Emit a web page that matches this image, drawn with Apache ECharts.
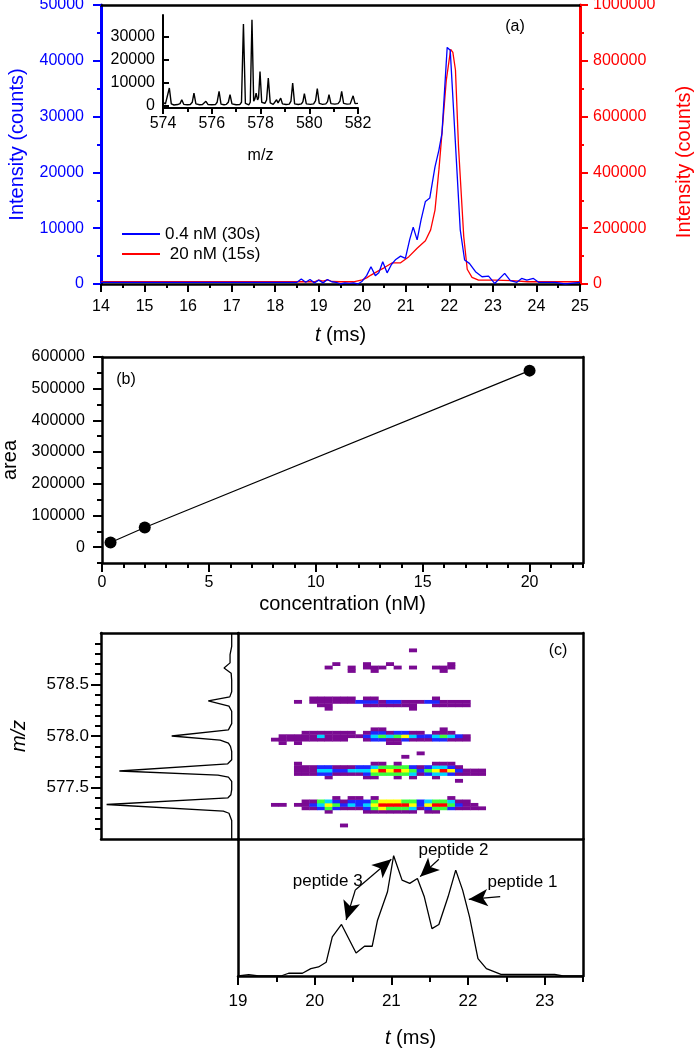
<!DOCTYPE html>
<html><head><meta charset="utf-8">
<script src="https://cdn.jsdelivr.net/npm/echarts@6/dist/echarts.min.js"></script>
<style>html,body{margin:0;padding:0;background:#fff}#c{width:694px;height:1048px}</style>
</head><body><div id="c"></div>
<script>
// ---------- DATA ----------
// (a) chromatograms: [t (ms), intensity]
const blueTrace = [[14,300],[18.5,300],[18.6,900],[18.7,300],[18.8,800],[18.9,200],[19.0,700],[19.1,200],[19.2,800],[19.3,400],[19.4,300],[19.5,0],[19.6,200],[19.7,100],[19.8,200],[19.9,0],[20.0,500],[20.1,1500],[20.2,3100],[20.3,1500],[20.38,2000],[20.47,4000],[20.57,2000],[20.67,3500],[20.77,4400],[20.88,5000],[20.99,4600],[21.09,8000],[21.17,10200],[21.26,7900],[21.35,11500],[21.45,14800],[21.55,15400],[21.67,21000],[21.76,24000],[21.83,27000],[21.95,42400],[22.02,41900],[22.25,9700],[22.35,4300],[22.46,3700],[22.6,2200],[22.75,1300],[22.9,1400],[23.04,100],[23.27,1900],[23.4,600],[23.55,300],[23.66,1000],[23.78,700],[23.93,1000],[24.05,300],[24.43,300],[24.66,0],[25,300]];
const redTrace = [[14,8000],[18.9,8000],[19.0,14000],[19.1,10000],[19.2,15000],[19.3,9000],[19.5,8000],[19.8,8000],[20.0,15000],[20.1,22000],[20.2,32000],[20.38,48000],[20.5,58000],[20.69,76000],[20.88,76000],[21.07,98000],[21.26,128000],[21.45,155000],[21.57,194000],[21.67,265000],[21.76,409000],[21.83,540000],[21.93,731000],[22.03,841000],[22.08,830000],[22.14,767000],[22.21,492000],[22.33,170000],[22.41,53000],[22.52,24000],[22.67,14000],[23.05,14000],[23.43,12000],[23.8,8000],[25,8000]];
const legendNames = ['0.4 nM (30s)', '20 nM (15s)'];
// (a) inset mass spectrum: [m/z, intensity]
const insetSpectrum = [[574.0,1500],[574.1,800],[574.18,500],[574.26,7700],[574.34,800],[574.45,300],[574.6,500],[574.7,900],[574.77,2600],[574.85,600],[575.0,400],[575.12,500],[575.2,1500],[575.27,5500],[575.35,800],[575.5,400],[575.62,500],[575.7,900],[575.76,1900],[575.85,500],[576.0,400],[576.15,500],[576.22,1500],[576.3,6200],[576.38,700],[576.5,400],[576.6,600],[576.68,1500],[576.75,4800],[576.83,800],[577.0,400],[577.15,500],[577.22,1500],[577.3,35600],[577.38,1000],[577.46,300],[577.52,400],[577.58,1500],[577.65,37400],[577.72,2000],[577.77,3000],[577.82,5500],[577.88,2500],[577.92,3500],[577.98,14900],[578.05,1500],[578.18,1000],[578.25,2500],[578.32,12000],[578.4,1200],[578.52,600],[578.6,900],[578.66,2600],[578.72,1200],[578.78,1500],[578.83,3300],[578.9,800],[579.05,500],[579.18,700],[579.25,2000],[579.32,9900],[579.4,800],[579.55,500],[579.68,800],[579.74,1800],[579.8,5300],[579.88,800],[580.05,600],[580.18,800],[580.26,2200],[580.33,7500],[580.41,1000],[580.55,600],[580.68,800],[580.75,1800],[580.81,4800],[580.89,900],[581.05,700],[581.18,900],[581.26,2000],[581.33,6200],[581.41,1000],[581.55,700],[581.68,800],[581.74,1500],[581.8,4300],[581.88,900],[582.0,1000]];
const insetYTicks = [0, 10000, 20000, 30000];
// (b) calibration
const concentration = [0.4, 2, 20];
const area = [15000, 62000, 557000];
const concTicks = [0, 5, 10, 15, 20];
const areaTicks = [0, 100000, 200000, 300000, 400000, 500000, 600000];
// (c) summed spectrum (left panel): [relative intensity, m/z]
const sideSpectrum = [[4.6,579.0],[4.6,578.87],[5.8,578.79],[5.8,578.71],[10.2,578.66],[5,578.61],[4.6,578.54],[4.6,578.43],[6,578.38],[21.7,578.34],[6.6,578.29],[4.6,578.24],[4.6,578.12],[7,578.06],[48.4,578.0],[13,577.96],[7,577.93],[5.5,577.9],[4.6,577.85],[4.6,577.77],[7.5,577.73],[86.6,577.66],[14.6,577.62],[7,577.6],[4.6,577.56],[4.6,577.48],[5.2,577.43],[7.3,577.4],[95.9,577.335],[10.7,577.27],[6.6,577.25],[4.6,577.18],[4.6,577.0]];
const mzMajorTicks = [577.5, 578.0, 578.5];
const mzMinorTicks = [577.1,577.2,577.3,577.4,577.6,577.7,577.8,577.9,578.1,578.2,578.3,578.4,578.6,578.7,578.8,578.9];
// (c) total ion chromatogram (bottom panel): [t (ms), relative intensity]
const ticTrace = [[19,0],[19.14,1],[19.27,0],[19.56,0],[19.66,2],[19.84,2],[19.95,5.4],[20.05,6.6],[20.15,10],[20.23,28.5],[20.35,37.6],[20.54,16.8],[20.65,21.7],[20.75,21.7],[20.82,40.7],[20.95,61.5],[21.03,87.8],[21.14,70],[21.24,67.6],[21.34,71.2],[21.43,57.8],[21.53,34.6],[21.62,37.6],[21.74,57.8],[21.84,77.3],[21.93,62.7],[22.02,43.2],[22.13,12.7],[22.24,5.4],[22.43,1.2],[23.13,1.2],[23.24,0],[23.5,0]];
const tTicks = [19, 20, 21, 22, 23];
const peptideLabels = [['peptide 3',20.17,68.8],['peptide 2',21.81,91.5],['peptide 1',22.71,68.1]];
const peptideArrows = [[[20.53,62.8],[20.41,40.9]],[[20.53,62.8],[21.0,85.2]],[[21.62,85.2],[21.375,72.5]],[[22.42,57.9],[22.01,56]]];
// (c) 2-D map: rows [m/z row index j, first t-bin k, levels per t-bin (0 = empty)]
const HEAT_T0 = 19.08, HEAT_DT = 0.1, HEAT_MZ0 = 577, HEAT_DMZ = 1/30;
const heatRows = [
  [4,13,'1'],
  [8,11,'100001111111011'],
  [9,8,'112421112454443124421111'],
  [10,4,'110112354232356666525664211'],
  [11,8,'1143212224555442344311'],
  [12,12,'1011010000000001'],
  [17,28,'1'],
  [18,11,'100001100101001'],
  [19,7,'1112211112444443123321111'],
  [20,7,'1113322333565654245652111'],
  [21,7,'1112211122344442123321'],
  [22,7,'100000000011010000111'],
  [24,21,'1'],
  [25,23,'1'],
  [28,5,'1010000000000011'],
  [29,4,'11111111110012211211122111'],
  [30,5,'1111131111123434532234321'],
  [31,8,'11111110122122110111'],
  [32,17,'1100000001'],
  [38,11,'100000000001'],
  [39,10,'11000011111110011111'],
  [40,7,'10111111222122111221111'],
  [41,9,'11111101100000001'],
  [49,14,'1001000000001'],
  [50,11,'10010111010100111'],
  [51,12,'1000100100000001'],
  [55,22,'1']
];
const HEAT_COLORS = [null, '#7a0a92', '#1e28ff', '#00d4ff', '#3cff3c', '#ffff00', '#ff0000'];

// ---------- BUILD ----------
const F = '"Liberation Sans", Arial, Helvetica, sans-serif';
const heatData = [];
heatRows.forEach(([j, k0, s]) => {
  for (let i = 0; i < s.length; i++) {
    const lv = +s[i];
    if (lv) heatData.push([HEAT_T0 + (k0 + i) * HEAT_DT, HEAT_MZ0 + j * HEAT_DMZ, lv]);
  }
});
const calib = concentration.map((c, i) => [c, area[i]]);
const plain = (v) => String(v);

function border(o) {
  return Object.assign({
    type: 'value',
    axisLine: { show: true, onZero: false, lineStyle: { color: '#000', width: 2.5 } },
    axisTick: { show: false }, axisLabel: { show: false },
    splitLine: { show: false }, minorSplitLine: { show: false }
  }, o);
}
const lbl = (o) => Object.assign({ fontFamily: F, fontSize: 16, color: '#000', formatter: plain }, o);
const tName = { fontFamily: F, fontSize: 20, color: '#000', rich: { i: { fontFamily: F, fontSize: 20, fontStyle: 'italic', color: '#000' } } };
const G = (o) => Object.assign({ containLabel: false, outerBoundsMode: 'none' }, o);

const chart = echarts.init(document.getElementById('c'), null, { renderer: 'canvas' });
chart.setOption({
  animation: false,
  backgroundColor: '#fff',
  textStyle: { fontFamily: F },
  grid: [
    G({ left: 101, top: 5, width: 479, height: 279 }),      // (a)
    G({ left: 163, top: 15, width: 195, height: 93 }),      // inset
    G({ left: 102, top: 357, width: 481, height: 206 }),    // (b)
    G({ left: 101, top: 633, width: 137, height: 206 }),    // (c) side spectrum
    G({ left: 238, top: 633, width: 345, height: 206 }),    // (c) map
    G({ left: 238, top: 839, width: 345, height: 137 })     // (c) chromatogram
  ],
  legend: {
    left: 117, top: 220, orient: 'vertical', itemWidth: 38, itemHeight: 2, itemGap: 2, icon: 'rect',
    selectedMode: false, data: legendNames,
    formatter: (n) => (n === legendNames[1] ? ' ' + n : n),
    textStyle: { fontFamily: F, fontSize: 17, color: '#000', lineHeight: 18 }
  },
  xAxis: [
    { gridIndex: 0, type: 'value', min: 14, max: 25, interval: 1, position: 'bottom',
      axisLine: { onZero: false, lineStyle: { color: '#000', width: 2.5 } },
      axisTick: { length: 8, lineStyle: { width: 2 } },
      minorTick: { show: true, splitNumber: 2, length: 4, lineStyle: { width: 2, color: '#000' } },
      axisLabel: lbl({ margin: 15 }), splitLine: { show: false }, minorSplitLine: { show: false },
      name: '{i|t} (ms)', nameLocation: 'middle', nameGap: 41, nameTextStyle: tName },
    border({ gridIndex: 0, min: 14, max: 25, position: 'top' }),
    { gridIndex: 1, type: 'value', min: 574, max: 582, interval: 2, position: 'bottom',
      axisLine: { onZero: false, lineStyle: { color: '#000', width: 2 } },
      axisTick: { length: 6, lineStyle: { width: 2 } },
      minorTick: { show: true, splitNumber: 2, length: 4, lineStyle: { width: 2, color: '#000' } },
      axisLabel: lbl({ margin: 8 }), splitLine: { show: false }, minorSplitLine: { show: false },
      name: 'm/z', nameLocation: 'middle', nameGap: 40, nameTextStyle: lbl({}) },
    { gridIndex: 2, type: 'value', min: 0, max: 22.5, interval: 1, position: 'bottom',
      axisLine: { onZero: false, lineStyle: { color: '#000', width: 2.5 } },
      axisTick: { length: 5, lineStyle: { width: 2 } }, axisLabel: { show: false }, splitLine: { show: false } },
    { gridIndex: 2, type: 'value', min: 0, max: 22.5, position: 'bottom',
      axisLine: { show: false, onZero: false },
      axisTick: { show: true, length: 9, customValues: concTicks, lineStyle: { width: 2, color: '#000' } },
      axisLabel: lbl({ customValues: concTicks, margin: 12 }), splitLine: { show: false },
      name: 'concentration (nM)', nameLocation: 'middle', nameGap: 31, nameTextStyle: lbl({ fontSize: 20 }) },
    border({ gridIndex: 2, min: 0, max: 22.5, position: 'top' }),
    border({ gridIndex: 3, min: 0, max: 100, inverse: true, position: 'bottom' }),
    border({ gridIndex: 3, min: 0, max: 100, inverse: true, position: 'top' }),
    border({ gridIndex: 4, min: 19, max: 23.5, position: 'bottom' }),
    border({ gridIndex: 4, min: 19, max: 23.5, position: 'top' }),
    { gridIndex: 5, type: 'value', min: 19, max: 23.5, interval: 0.5, position: 'bottom',
      axisLine: { onZero: false, lineStyle: { color: '#000', width: 2.5 } },
      axisTick: { length: 6, lineStyle: { width: 2 } }, axisLabel: { show: false }, splitLine: { show: false } },
    { gridIndex: 5, type: 'value', min: 19, max: 23.5, position: 'bottom',
      axisLine: { show: false, onZero: false },
      axisTick: { show: true, length: 9, customValues: tTicks, lineStyle: { width: 2, color: '#000' } },
      axisLabel: lbl({ customValues: tTicks, margin: 17, fontSize: 17 }), splitLine: { show: false },
      name: '{i|t} (ms)', nameLocation: 'middle', nameGap: 52, nameTextStyle: tName }
  ],
  yAxis: [
    { gridIndex: 0, type: 'value', min: 0, max: 50000, interval: 10000, position: 'left',
      axisLine: { onZero: false, lineStyle: { color: '#0000ff', width: 3 } },
      axisTick: { length: 8, lineStyle: { width: 2 } },
      minorTick: { show: true, splitNumber: 2, length: 4, lineStyle: { width: 2, color: '#0000ff' } },
      axisLabel: lbl({ color: '#0000ff', margin: 17 }), splitLine: { show: false }, minorSplitLine: { show: false },
      name: 'Intensity (counts)', nameLocation: 'middle', nameGap: 74, nameTextStyle: lbl({ fontSize: 20, color: '#0000ff' }) },
    { gridIndex: 0, type: 'value', min: 0, max: 1000000, interval: 200000, position: 'right',
      axisLine: { onZero: false, lineStyle: { color: '#ff0000', width: 3 } },
      axisTick: { length: 8, lineStyle: { width: 2 } },
      minorTick: { show: true, splitNumber: 2, length: 4, lineStyle: { width: 2, color: '#ff0000' } },
      axisLabel: lbl({ color: '#ff0000', margin: 13 }), splitLine: { show: false }, minorSplitLine: { show: false },
      name: 'Intensity (counts)', nameLocation: 'middle', nameGap: 94,
      nameTextStyle: lbl({ fontSize: 20, color: '#ff0000', padding: [0, 35, 0, 0] }) },
    { gridIndex: 1, type: 'value', min: -1000, max: 39500, position: 'left',
      axisLine: { onZero: false, lineStyle: { color: '#000', width: 2 } },
      axisTick: { inside: true, length: 6, customValues: insetYTicks, lineStyle: { width: 2 } },
      axisLabel: lbl({ customValues: insetYTicks, margin: 8 }), splitLine: { show: false } },
    { gridIndex: 2, type: 'value', min: -50000, max: 600000, interval: 50000, position: 'left',
      axisLine: { onZero: false, lineStyle: { color: '#000', width: 2.5 } },
      axisTick: { length: 5, lineStyle: { width: 2 } }, axisLabel: { show: false }, splitLine: { show: false } },
    { gridIndex: 2, type: 'value', min: -50000, max: 600000, position: 'left',
      axisLine: { show: false, onZero: false },
      axisTick: { show: true, length: 9, customValues: areaTicks, lineStyle: { width: 2, color: '#000' } },
      axisLabel: lbl({ customValues: areaTicks, margin: 17 }), splitLine: { show: false },
      name: 'area', nameLocation: 'middle', nameGap: 80, nameTextStyle: lbl({ fontSize: 20 }) },
    border({ gridIndex: 2, min: -50000, max: 600000, position: 'right' }),
    { gridIndex: 3, type: 'value', min: 577, max: 579, position: 'left',
      axisLine: { onZero: false, lineStyle: { color: '#000', width: 2.5 } },
      axisTick: { length: 6, customValues: mzMinorTicks, lineStyle: { width: 2 } }, axisLabel: { show: false }, splitLine: { show: false } },
    { gridIndex: 3, type: 'value', min: 577, max: 579, position: 'left',
      axisLine: { show: false, onZero: false },
      axisTick: { show: true, length: 10, customValues: mzMajorTicks, lineStyle: { width: 2, color: '#000' } },
      axisLabel: lbl({ customValues: mzMajorTicks, margin: 12, fontSize: 17, formatter: (v) => Number(v).toFixed(1) }), splitLine: { show: false },
      name: 'm/z', nameLocation: 'middle', nameGap: 72, nameTextStyle: lbl({ fontSize: 20, fontStyle: 'italic' }) },
    border({ gridIndex: 4, min: 577, max: 579, position: 'left' }),
    border({ gridIndex: 4, min: 577, max: 579, position: 'right' }),
    border({ gridIndex: 5, min: 0, max: 100, position: 'left' }),
    border({ gridIndex: 5, min: 0, max: 100, position: 'right' })
  ],
  graphic: [
    { type: 'text', x: 515, y: 27, style: { text: '(a)', fontFamily: F, fontSize: 16, fill: '#000', align: 'center', verticalAlign: 'middle' } },
    { type: 'text', x: 126, y: 380, style: { text: '(b)', fontFamily: F, fontSize: 16, fill: '#000', align: 'center', verticalAlign: 'middle' } },
    { type: 'text', x: 558, y: 651, style: { text: '(c)', fontFamily: F, fontSize: 16, fill: '#000', align: 'center', verticalAlign: 'middle' } }
  ],
  series: [
    { name: legendNames[0], type: 'line', xAxisIndex: 0, yAxisIndex: 0, data: blueTrace, symbol: 'none',
      color: '#0000ff', lineStyle: { width: 1.3, color: '#0000ff' }, z: 3 },
    { name: legendNames[1], type: 'line', xAxisIndex: 0, yAxisIndex: 1, data: redTrace, symbol: 'none',
      color: '#ff0000', lineStyle: { width: 1.3, color: '#ff0000' }, z: 2 },
    { name: 'inset', type: 'line', xAxisIndex: 2, yAxisIndex: 2, data: insetSpectrum, symbol: 'none',
      lineStyle: { width: 1.4, color: '#000' } },
    { name: 'calibration', type: 'line', xAxisIndex: 3, yAxisIndex: 3, data: calib, symbol: 'circle', symbolSize: 12,
      itemStyle: { color: '#000' }, lineStyle: { width: 1.1, color: '#000' } },
    { name: 'side', type: 'line', xAxisIndex: 6, yAxisIndex: 6, data: sideSpectrum, symbol: 'none',
      lineStyle: { width: 1.3, color: '#000' } },
    { name: 'map', type: 'custom', xAxisIndex: 8, yAxisIndex: 8, data: heatData, encode: { x: 0, y: 1 },
      renderItem: function (params, api) {
        const t = api.value(0), m = api.value(1), lv = api.value(2);
        const a = api.coord([t - HEAT_DT / 2, m + HEAT_DMZ / 2]);
        const b = api.coord([t + HEAT_DT / 2, m - HEAT_DMZ / 2]);
        return { type: 'rect', shape: { x: a[0], y: a[1], width: b[0] - a[0] + 0.4, height: b[1] - a[1] + 0.4 },
                 style: { fill: HEAT_COLORS[lv] } };
      } },
    { name: 'tic', type: 'line', xAxisIndex: 10, yAxisIndex: 10, data: ticTrace, symbol: 'none',
      lineStyle: { width: 1.3, color: '#000' },
      markLine: { silent: true, symbol: ['none', 'arrow'], symbolSize: [13, 19], label: { show: false },
        lineStyle: { color: '#000', width: 1.2, type: 'solid' },
        data: peptideArrows.map(([p, q]) => [{ coord: p }, { coord: q }]) },
      markPoint: { silent: true, symbol: 'circle', symbolSize: 0,
        label: { show: true, position: 'inside', formatter: '{b}', fontFamily: F, fontSize: 17, color: '#000' },
        data: peptideLabels.map(([n, t, v]) => ({ name: n, coord: [t, v] })) } }
  ]
});
</script></body></html>
